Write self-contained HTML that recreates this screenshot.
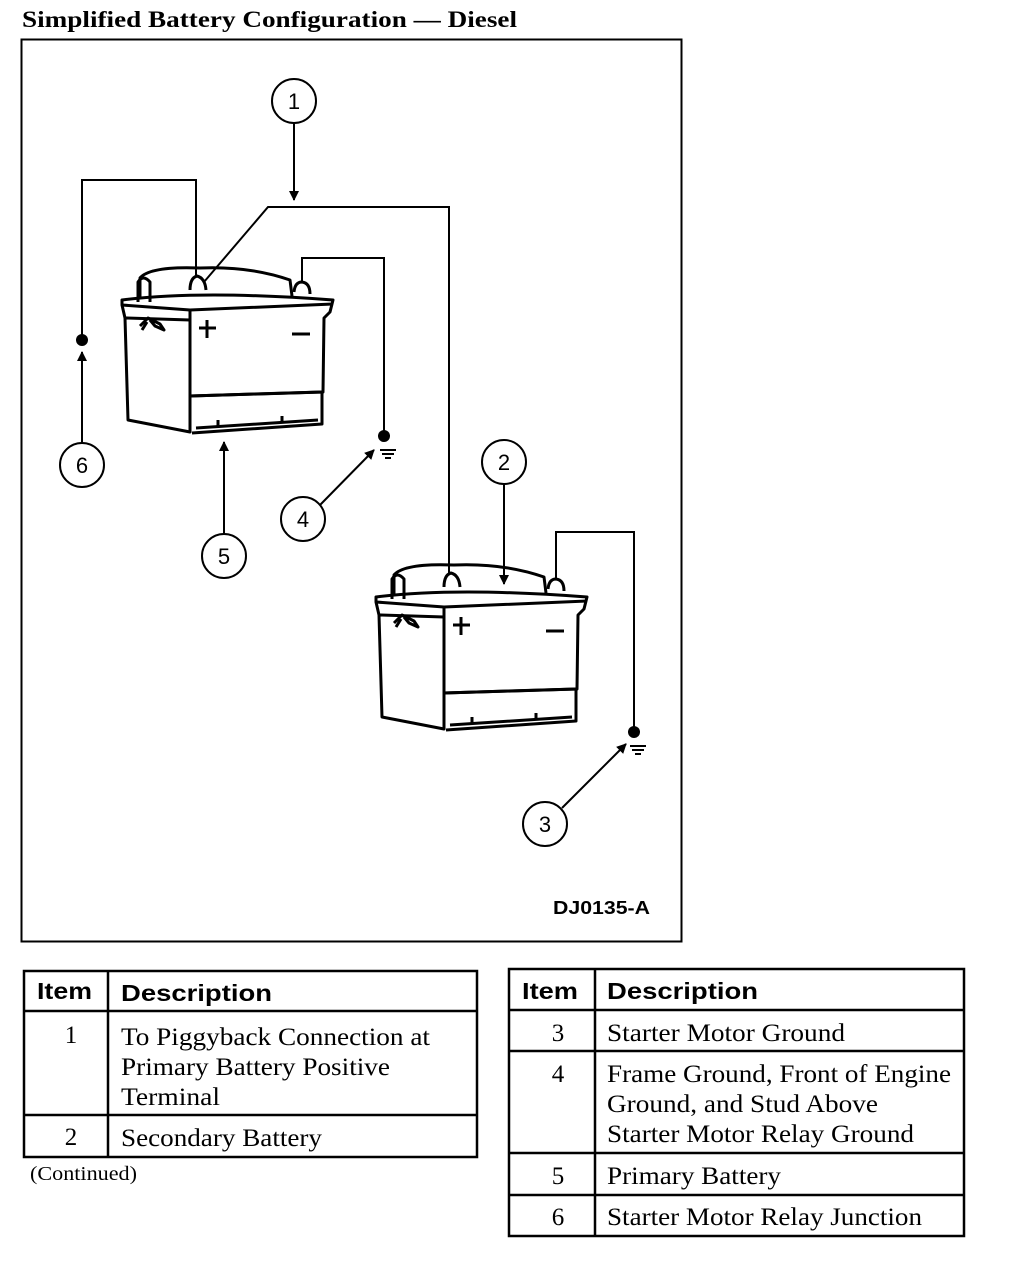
<!DOCTYPE html>
<html><head><style>
html,body{margin:0;padding:0;background:#fff;width:1024px;height:1270px;overflow:hidden}
svg{display:block}
.s{font-family:"Liberation Serif",serif;font-size:25px;fill:#000}
.h{font-family:"Liberation Sans",sans-serif;font-weight:bold;font-size:23px;fill:#000}
.c{font-family:"Liberation Sans",sans-serif;font-size:22px;fill:#000;text-anchor:middle}
</style></head><body>
<svg width="1024" height="1270" viewBox="0 0 1024 1270" xmlns="http://www.w3.org/2000/svg">
<defs>
<marker id="a" markerWidth="10" markerHeight="12" refX="9" refY="6" orient="auto" markerUnits="userSpaceOnUse">
<path d="M0,1 L10,6 L0,11 Z" fill="#000"/></marker>
<g id="bat" fill="none" stroke="#000" stroke-width="3" stroke-linejoin="round">
<path d="M140,300 L140,278 Q150,266 200,268 Q250,266 290,280 L292,296" />
<path d="M122,300 Q200,290 333,300 L330,312 L324,318 L323,392 L190,396 L190,432 L128,420 L125,318 L122,305 Z" fill="#fff"/>
<path d="M122,305 L190,310 L333,304"/>
<path d="M190,310 L190,396"/>
<path d="M126,318 L190,320"/>
<path d="M190,396 L322,392 L322,424 L192,433"/>
<path d="M196,428 L318,420"/>
<path d="M138,302 L138,282 Q143,274 150,282 L150,302"/>
<path d="M140,326 L148,318 L160,324 L164,330 L155,326 L150,320 M147,322 L142,330"/>
<path d="M190,290 Q190,278 197,276 Q205,278 206,290"/>
<path d="M294,292 Q295,282 302,282 Q310,283 310,294"/>
<path d="M207,320 L207,338 M199,328 L216,328"/>
<path d="M292,334 L310,334"/>
<path d="M218,420 L218,426 M282,416 L282,422"/>
</g>
<g id="gnd" stroke="#000" stroke-width="2"><path d="M-8,8 L8,8 M-6,12 L6,12 M-3,16 L3,16"/></g>
</defs>

<text x="22" y="27" textLength="495" lengthAdjust="spacingAndGlyphs" style="font-family:'Liberation Serif',serif;font-weight:bold;font-size:23px">Simplified Battery Configuration — Diesel</text>
<rect x="21.5" y="39.5" width="660" height="902" fill="none" stroke="#000" stroke-width="2"/>

<use href="#bat"/>
<use href="#bat" transform="translate(254,297)"/>

<g fill="none" stroke="#000" stroke-width="2">
<path d="M82,340 L82,180 L196,180 L196,276"/>
<path d="M204,282 L268,207 L449,207 L449,573"/>
<path d="M302,282 L302,258 L384,258 L384,434"/>
<path d="M556,580 L556,532 L634,532 L634,731"/>
<circle cx="294" cy="101" r="22"/>
<circle cx="82" cy="465" r="22"/>
<circle cx="224" cy="556" r="22"/>
<circle cx="303" cy="519" r="22"/>
<circle cx="504" cy="462" r="22"/>
<circle cx="545" cy="824" r="22"/>
<path d="M294,123 L294,200" marker-end="url(#a)"/>
<path d="M82,443 L82,352" marker-end="url(#a)"/>
<path d="M224,534 L224,442" marker-end="url(#a)"/>
<path d="M320,505 L374,450" marker-end="url(#a)"/>
<path d="M504,484 L504,584" marker-end="url(#a)"/>
<path d="M562,808 L626,744" marker-end="url(#a)"/>
</g>
<circle cx="82" cy="340" r="6"/>
<circle cx="384" cy="436" r="6"/>
<circle cx="634" cy="732" r="6"/>
<use href="#gnd" transform="translate(388,442)"/>
<use href="#gnd" transform="translate(638,738)"/>

<text class="c" x="294" y="109">1</text>
<text class="c" x="82" y="473">6</text>
<text class="c" x="224" y="564">5</text>
<text class="c" x="303" y="527">4</text>
<text class="c" x="504" y="470">2</text>
<text class="c" x="545" y="832">3</text>
<text x="553" y="914" textLength="97" lengthAdjust="spacingAndGlyphs" style="font-family:'Liberation Sans',sans-serif;font-weight:bold;font-size:18px">DJ0135-A</text>

<g fill="none" stroke="#000" stroke-width="2.5">
<rect x="24" y="971" width="453" height="186"/>
<path d="M24,1011 L477,1011 M24,1115 L477,1115 M108,971 L108,1157"/>
<rect x="509" y="969" width="455" height="267"/>
<path d="M509,1010 L964,1010 M509,1051 L964,1051 M509,1153 L964,1153 M509,1195 L964,1195 M595,969 L595,1236"/>
</g>
<text class="h" x="37" y="999" textLength="55" lengthAdjust="spacingAndGlyphs">Item</text>
<text class="h" x="121" y="1001" textLength="151" lengthAdjust="spacingAndGlyphs">Description</text>
<text class="s" x="71" y="1043" text-anchor="middle">1</text>
<text class="s" x="121" y="1045" textLength="309" lengthAdjust="spacingAndGlyphs">To Piggyback Connection at</text>
<text class="s" x="121" y="1075" textLength="269" lengthAdjust="spacingAndGlyphs">Primary Battery Positive</text>
<text class="s" x="121" y="1105" textLength="99" lengthAdjust="spacingAndGlyphs">Terminal</text>
<text class="s" x="71" y="1145" text-anchor="middle">2</text>
<text class="s" x="121" y="1146" textLength="201" lengthAdjust="spacingAndGlyphs">Secondary Battery</text>
<text x="30" y="1180" textLength="107" lengthAdjust="spacingAndGlyphs" style="font-family:'Liberation Serif',serif;font-size:20px">(Continued)</text>

<text class="h" x="522" y="999" textLength="56" lengthAdjust="spacingAndGlyphs">Item</text>
<text class="h" x="607" y="999" textLength="151" lengthAdjust="spacingAndGlyphs">Description</text>
<text class="s" x="558" y="1041" text-anchor="middle">3</text>
<text class="s" x="607" y="1041" textLength="238" lengthAdjust="spacingAndGlyphs">Starter Motor Ground</text>
<text class="s" x="558" y="1082" text-anchor="middle">4</text>
<text class="s" x="607" y="1082" textLength="344" lengthAdjust="spacingAndGlyphs">Frame Ground, Front of Engine</text>
<text class="s" x="607" y="1112" textLength="271" lengthAdjust="spacingAndGlyphs">Ground, and Stud Above</text>
<text class="s" x="607" y="1142" textLength="307" lengthAdjust="spacingAndGlyphs">Starter Motor Relay Ground</text>
<text class="s" x="558" y="1184" text-anchor="middle">5</text>
<text class="s" x="607" y="1184" textLength="174" lengthAdjust="spacingAndGlyphs">Primary Battery</text>
<text class="s" x="558" y="1225" text-anchor="middle">6</text>
<text class="s" x="607" y="1225" textLength="315" lengthAdjust="spacingAndGlyphs">Starter Motor Relay Junction</text>
</svg>
</body></html>
